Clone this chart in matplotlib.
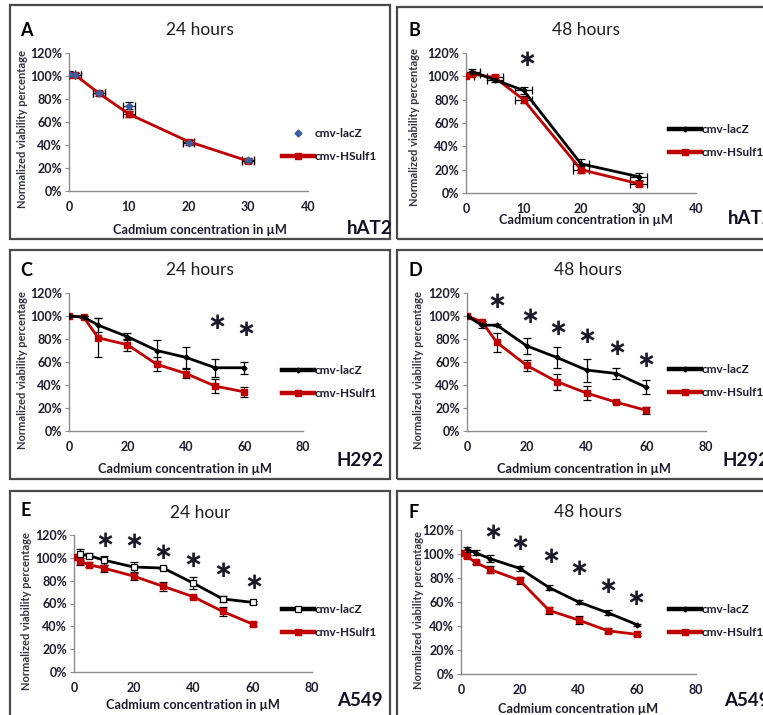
import matplotlib.pyplot as plt
from matplotlib.patches import Rectangle
from matplotlib.ticker import FuncFormatter, MultipleLocator

W, H = 763, 715
RED = "#C00000"
BLUE = "#3A5E9E"
TEXT = "#1c1c2c"
FONT = "Lato"

# hAT2, 24 h
a_lacz_x = [0, 1, 5, 10, 20, 30]
a_lacz = [102, 101, 85, 74, 42, 27]
a_lacz_err = [2, 2, 2, 3, 2, 2]
a_hsulf_x = [0, 1, 5, 10, 20, 30]
a_hsulf = [101, 101, 85, 67, 43, 26]
a_hsulf_err = [2, 2, 1, 3, 1, 2]

# hAT2, 48 h
b_lacz_x = [1, 5, 10, 20, 30]
b_lacz = [104, 97, 88, 25, 14]
b_lacz_err = [2, 2, 3, 4, 3]
b_hsulf_x = [0, 1, 5, 10, 20, 30]
b_hsulf = [100, 102, 99, 80, 20, 8]
b_hsulf_err = [1, 2, 2, 3, 3, 2]
b_star_x = [10.5]
b_star_y = [114]

# H292, 24 h
c_x = [0, 5, 10, 20, 30, 40, 50, 60]
c_lacz = [100, 99, 92, 82, 70, 64, 55, 55]
c_lacz_err = [0, 1, 6, 3, 9, 9, 8, 5]
c_hsulf = [100, 99, 81, 75, 58, 50, 39, 34]
c_hsulf_err = [0, 1, 17, 5, 6, 4, 6, 4]
c_star_x = [50.5, 60.5]
c_star_y = [94, 88]

# H292, 48 h
d_x = [0, 5, 10, 20, 30, 40, 50, 60]
d_lacz = [100, 92, 92, 74, 64, 53, 50, 38]
d_lacz_err = [0, 2, 1, 7, 9, 10, 5, 6]
d_hsulf = [100, 95, 77, 57, 43, 33, 25, 18]
d_hsulf_err = [0, 1, 8, 5, 7, 6, 1, 3]
d_star_x = [10, 21, 30.5, 40, 50, 60]
d_star_y = [113, 100, 89, 82, 72, 61]

# A549, 24 h
e_lacz_x = [2, 5, 10, 20, 30, 40, 50, 60]
e_lacz = [103, 102, 98, 92, 91, 78, 64, 61]
e_lacz_err = [5, 2, 4, 4, 1, 5, 3, 1]
e_hsulf_x = [0, 2, 5, 10, 20, 30, 40, 50, 60]
e_hsulf = [101, 97, 94, 91, 84, 75, 66, 53, 42]
e_hsulf_err = [0, 3, 2, 3, 3, 4, 1, 4, 2]
e_star_x = [10.5, 20, 30, 40, 50, 60.5]
e_star_y = [115, 114, 105, 98, 89, 78]

# A549, 48 h
f_lacz_x = [2, 5, 10, 20, 30, 40, 50, 60]
f_lacz = [104, 101, 96, 88, 72, 60, 51, 41]
f_lacz_err = [2, 2, 3, 2, 2, 2, 2, 1]
f_hsulf_x = [0, 2, 5, 10, 20, 30, 40, 50, 60]
f_hsulf = [101, 98, 93, 87, 78, 53, 45, 36, 33]
f_hsulf_err = [0, 1, 1, 3, 3, 3, 3, 2, 1]
f_star_x = [11, 20, 30.5, 40, 50, 59.5]
f_star_y = [118, 109, 98, 88, 73, 63]

panels = [
    dict(letter="A", title="24 hours", cell="hAT2", xmax=40, xstep=10,
         box=(10, 5, 390, 239), axes=(69, 308, 53, 191),
         lacz=(a_lacz_x, a_lacz, a_lacz_err), hsulf=(a_hsulf_x, a_hsulf, a_hsulf_err),
         xerr=1.0, lacz_style="dots", stars=([], []),
         letter_xy=(20, 30), title_xy=(200, 30), xlabel_xy=(200, 230),
         cell_xy=(347, 228), ylabel_xy=(23, 129), legend_xy=(282, 145),
         xlabel="Cadmium concentration in µM"),
    dict(letter="B", title="48 hours", cell="hAT2", xmax=40, xstep=10,
         box=(397, 7, 800, 239), axes=(466, 696, 53, 193),
         lacz=(b_lacz_x, b_lacz, b_lacz_err), hsulf=(b_hsulf_x, b_hsulf, b_hsulf_err),
         xerr=1.4, lacz_style="line", stars=(b_star_x, b_star_y),
         letter_xy=(408, 30), title_xy=(586, 30), xlabel_xy=(586, 220),
         cell_xy=(728, 218), ylabel_xy=(414, 127), legend_xy=(669, 141),
         xlabel="Cadmium concentration in µM"),
    dict(letter="C", title="24 hours", cell="H292", xmax=80, xstep=20,
         box=(10, 250, 390, 479), axes=(69, 303, 293, 431),
         lacz=(c_x, c_lacz, c_lacz_err), hsulf=(c_x, c_hsulf, c_hsulf_err),
         xerr=None, lacz_style="line", stars=(c_star_x, c_star_y),
         letter_xy=(20, 270), title_xy=(200, 270), xlabel_xy=(185, 469),
         cell_xy=(337, 460), ylabel_xy=(23, 370), legend_xy=(282, 382),
         xlabel="Cadmium concentration in µM"),
    dict(letter="D", title="48 hours", cell="H292", xmax=80, xstep=20,
         box=(397, 250, 800, 479), axes=(467, 706, 293, 431),
         lacz=(d_x, d_lacz, d_lacz_err), hsulf=(d_x, d_hsulf, d_hsulf_err),
         xerr=None, lacz_style="line", stars=(d_star_x, d_star_y),
         letter_xy=(408, 270), title_xy=(588, 270), xlabel_xy=(584, 469),
         cell_xy=(723, 460), ylabel_xy=(418, 370), legend_xy=(669, 381),
         xlabel="Cadmium concentration in µM"),
    dict(letter="E", title="24 hour", cell="A549", xmax=80, xstep=20,
         box=(10, 491, 390, 760), axes=(74, 312, 535, 672),
         lacz=(e_lacz_x, e_lacz, e_lacz_err), hsulf=(e_hsulf_x, e_hsulf, e_hsulf_err),
         xerr=None, lacz_style="open", stars=(e_star_x, e_star_y),
         letter_xy=(20, 510), title_xy=(200, 513), xlabel_xy=(193, 705),
         cell_xy=(337, 700), ylabel_xy=(27, 611), legend_xy=(282, 621),
         xlabel="Cadmium concentration in µM"),
    dict(letter="F", title="48 hours", cell="A549", xmax=80, xstep=20,
         box=(397, 491, 800, 760), axes=(461, 696, 530, 674),
         lacz=(f_lacz_x, f_lacz, f_lacz_err), hsulf=(f_hsulf_x, f_hsulf, f_hsulf_err),
         xerr=None, lacz_style="line", stars=(f_star_x, f_star_y),
         letter_xy=(408, 512), title_xy=(588, 512), xlabel_xy=(578, 709),
         cell_xy=(724, 700), ylabel_xy=(418, 610), legend_xy=(669, 621),
         xlabel="Cadmium concentration µM"),
]


def fx(x):
    return x / W


def fy(y):
    return 1 - y / H


fig = plt.figure(figsize=(W / 100, H / 100), dpi=100)
fig.patch.set_facecolor("white")


def draw_panel(p):
    x0, y0, x1, y1 = p["box"]
    fig.add_artist(Rectangle((fx(x0), fy(y1)), fx(x1 - x0), (y1 - y0) / H,
                             transform=fig.transFigure, fill=False,
                             edgecolor="#4a4a4a", linewidth=1.6))

    ax_l, ax_r, ax_t, ax_b = p["axes"]
    ax = fig.add_axes([fx(ax_l), fy(ax_b), fx(ax_r - ax_l), (ax_b - ax_t) / H])
    ax.set_xlim(0, p["xmax"])
    ax.set_ylim(0, 120)
    for side in ("top", "right"):
        ax.spines[side].set_visible(False)
    for side in ("left", "bottom"):
        ax.spines[side].set_color("#8c8c8c")
        ax.spines[side].set_linewidth(1.0)
    ax.xaxis.set_major_locator(MultipleLocator(p["xstep"]))
    ax.yaxis.set_major_locator(MultipleLocator(20))
    ax.yaxis.set_major_formatter(FuncFormatter(lambda v, _: f"{v:.0f}%"))
    ax.tick_params(axis="y", length=3, width=0.8, color="#8c8c8c", pad=2)
    ax.tick_params(axis="x", length=0, pad=7)
    for lab in ax.get_xticklabels() + ax.get_yticklabels():
        lab.set_fontfamily(FONT)
        lab.set_fontweight("bold")
        lab.set_fontsize(9)
        lab.set_color(TEXT)

    lx, ly, le = p["lacz"]
    hx, hy, he = p["hsulf"]
    xerr = p["xerr"]
    ebar = dict(ecolor="black", elinewidth=0.9, capsize=2.8, capthick=0.9)

    ax.errorbar(lx, ly, yerr=le, xerr=xerr, fmt="none", zorder=2, **ebar)
    if p["lacz_style"] == "dots":
        (lacz_line,) = ax.plot(lx, ly, linestyle="none", marker="D", markersize=3.5,
                               color=BLUE, zorder=4, label="cmv-lacZ")
    else:
        if p["lacz_style"] == "open":
            mk = dict(marker="s", markersize=5, markerfacecolor="white",
                      markeredgecolor="black", markeredgewidth=0.9)
        else:
            mk = dict(marker="D", markersize=2.5, markerfacecolor="black",
                      markeredgecolor="black")
        (lacz_line,) = ax.plot(lx, ly, color="black", linewidth=2.0, zorder=4,
                               label="cmv-lacZ", **mk)

    ax.errorbar(hx, hy, yerr=he, xerr=xerr, fmt="none", zorder=3, **ebar)
    (hsulf_line,) = ax.plot(hx, hy, color=RED, linewidth=2.0, marker="s",
                            markersize=4.8, zorder=3, label="cmv-HSulf1")

    sx, sy = p["stars"]
    for x, y in zip(sx, sy):
        ax.text(x, y, "\u2217", ha="center", va="center", fontsize=16.5,
                fontweight="bold", color="#1a1a2a", clip_on=False,
                family="DejaVu Sans")

    lgx, lgy = p["legend_xy"]
    leg = ax.legend(handles=[lacz_line, hsulf_line], loc="center left",
                    bbox_to_anchor=(fx(lgx), fy(lgy)), bbox_transform=fig.transFigure,
                    frameon=False, borderpad=0, borderaxespad=0, handlelength=2.7,
                    handletextpad=0.05, labelspacing=1.0,
                    prop=dict(family=FONT, size=8.5, weight="bold"))
    for t in leg.get_texts():
        t.set_color(TEXT)
    for h in leg.legend_handles:
        if h.get_linestyle() != "None":
            h.set_linewidth(3.2)

    fig.text(fx(p["letter_xy"][0]), fy(p["letter_xy"][1]), p["letter"],
             family=FONT, fontweight="bold", fontsize=13, color="black",
             ha="left", va="center")
    fig.text(fx(p["title_xy"][0]), fy(p["title_xy"][1]), p["title"],
             family=FONT, fontsize=12.5, color="#1e1e1e", ha="center", va="center")
    fig.text(fx(p["xlabel_xy"][0]), fy(p["xlabel_xy"][1]), p["xlabel"],
             family=FONT, fontweight="bold", fontsize=9.2, color=TEXT,
             ha="center", va="center")
    fig.text(fx(p["cell_xy"][0]), fy(p["cell_xy"][1]), p["cell"],
             family=FONT, fontweight="bold", fontsize=13.5, color="#111122",
             ha="left", va="center")
    fig.text(fx(p["ylabel_xy"][0]), fy(p["ylabel_xy"][1]),
             "Normalized viability percentage", rotation=90,
             family=FONT, fontweight="bold", fontsize=8, color="#333340",
             ha="center", va="center")


for p in panels:
    draw_panel(p)

fig.savefig("out.png", dpi=100, facecolor="white")
